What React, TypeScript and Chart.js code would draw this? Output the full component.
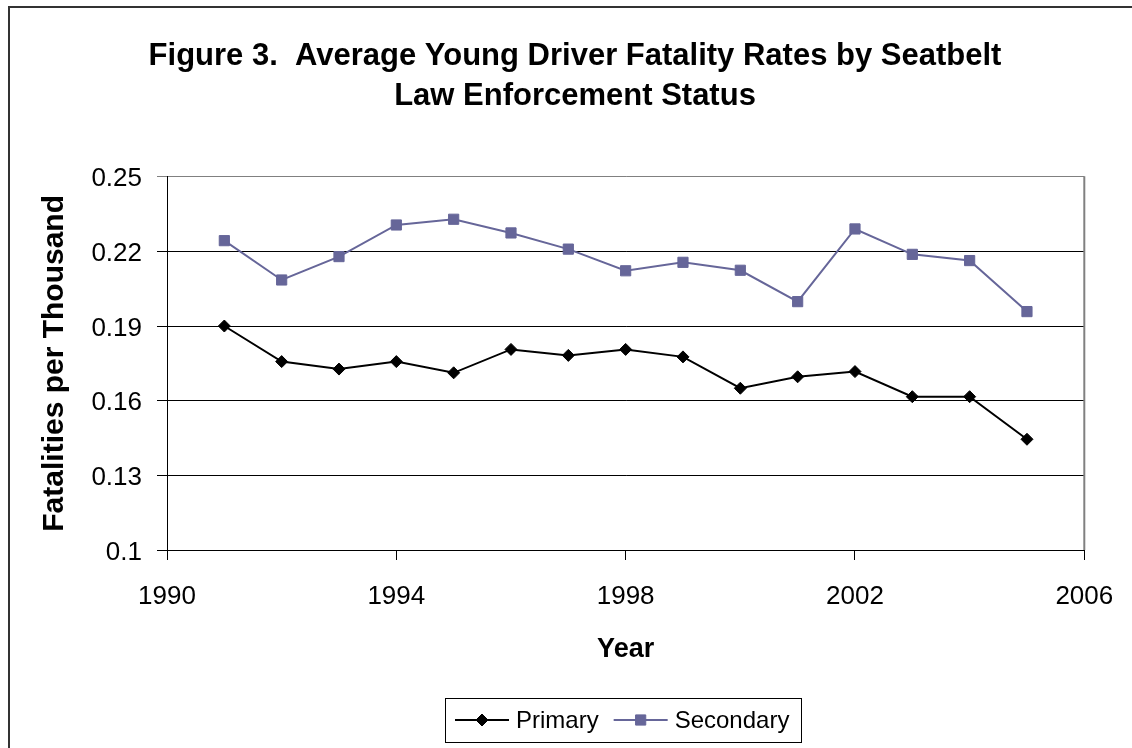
import React, { useEffect, useRef } from "react";
import { Chart, registerables } from "chart.js";

Chart.register(...registerables);

// ---- Data ----
const years = [1991, 1992, 1993, 1994, 1995, 1996, 1997, 1998, 1999, 2000, 2001, 2002, 2003, 2004, 2005];
const primaryRates = [0.19, 0.1757, 0.1727, 0.1757, 0.1712, 0.1806, 0.1782, 0.1806, 0.1776, 0.165, 0.1696, 0.1717, 0.1616, 0.1616, 0.1445];
const secondaryRates = [0.2243, 0.2085, 0.2179, 0.2306, 0.2329, 0.2274, 0.2209, 0.2122, 0.2156, 0.2124, 0.1998, 0.229, 0.2188, 0.2163, 0.1958];
const xTickValues = [1990, 1994, 1998, 2002, 2006];
const yTickValues = [0.1, 0.13, 0.16, 0.19, 0.22, 0.25];
const titleLines = ["Figure 3.  Average Young Driver Fatality Rates by Seatbelt", "Law Enforcement Status"];
const seriesLabels = ["Primary", "Secondary"];
const xTitle = "Year";
const yTitle = "Fatalities per Thousand";

const FONT = '"Liberation Sans", Arial, Helvetica, sans-serif';
const W = 1134;
const H = 752;

function drawMarker(ctx: CanvasRenderingContext2D, style: string, x: number, y: number, r: number) {
  ctx.beginPath();
  if (style === "rectRot") {
    ctx.moveTo(x - r, y);
    ctx.lineTo(x, y - r);
    ctx.lineTo(x + r, y);
    ctx.lineTo(x, y + r);
    ctx.closePath();
  } else {
    const s = Math.SQRT1_2 * r;
    ctx.rect(x - s, y - s, 2 * s, 2 * s);
  }
  ctx.fill();
  ctx.stroke();
}

const decorPlugin = {
  id: "decor",
  afterDraw(chart: any) {
    const ctx: CanvasRenderingContext2D = chart.ctx;
    const a = chart.chartArea;
    ctx.save();
    // plot area right border
    ctx.strokeStyle = "#808080";
    ctx.lineWidth = 2;
    ctx.beginPath();
    ctx.moveTo(a.right, a.top - 0.5);
    ctx.lineTo(a.right, a.bottom);
    ctx.stroke();

    // outer frame (left + top edges visible)
    ctx.strokeStyle = "#333";
    ctx.lineWidth = 2;
    ctx.beginPath();
    ctx.moveTo(1, chart.height);
    ctx.lineTo(1, 1);
    ctx.lineTo(chart.width, 1);
    ctx.stroke();

    // legend
    ctx.font = `24px ${FONT}`;
    const dsets = chart.data.datasets;
    const lineLen = 54, gapT = 7, gapItem = 15, padL = 10, padR = 12, boxH = 44;
    const widths = dsets.map((d: any) => ctx.measureText(d.label).width);
    let total = padL + padR + gapItem * (dsets.length - 1);
    widths.forEach((w: number) => (total += lineLen + gapT + w));
    const boxX = Math.round((a.left + a.right) / 2 - total / 2 - 2);
    const boxY = Math.round(a.bottom + 148);
    ctx.strokeStyle = "#000";
    ctx.lineWidth = 1;
    ctx.strokeRect(boxX + 0.5, boxY + 0.5, Math.round(total), boxH);
    const cy = boxY + boxH / 2;
    let x = boxX + padL;
    dsets.forEach((d: any, i: number) => {
      ctx.strokeStyle = d.borderColor;
      ctx.lineWidth = 2;
      ctx.beginPath();
      ctx.moveTo(x, cy);
      ctx.lineTo(x + lineLen, cy);
      ctx.stroke();
      ctx.fillStyle = d.pointBackgroundColor;
      ctx.strokeStyle = d.pointBorderColor;
      ctx.lineWidth = d.pointBorderWidth;
      drawMarker(ctx, d.pointStyle, x + lineLen / 2, cy, d.pointRadius);
      ctx.fillStyle = "#000";
      ctx.textBaseline = "middle";
      ctx.textAlign = "left";
      ctx.fillText(d.label, x + lineLen + gapT, cy + 1);
      x += lineLen + gapT + widths[i] + gapItem;
    });
    ctx.restore();
  },
};

export default function App() {
  const canvasRef = useRef<HTMLCanvasElement | null>(null);

  useEffect(() => {
    if (!canvasRef.current) return;
    const chart = new Chart(canvasRef.current, {
      type: "line",
      data: {
        datasets: [
          {
            label: seriesLabels[0],
            data: years.map((yr, i) => ({ x: yr, y: primaryRates[i] })),
            borderColor: "#000000",
            backgroundColor: "#000000",
            borderWidth: 2,
            tension: 0,
            pointStyle: "rectRot",
            pointRadius: 6,
            pointBackgroundColor: "#000000",
            pointBorderColor: "#000000",
            pointBorderWidth: 1,
          },
          {
            label: seriesLabels[1],
            data: years.map((yr, i) => ({ x: yr, y: secondaryRates[i] })),
            borderColor: "#666699",
            backgroundColor: "#666699",
            borderWidth: 2,
            tension: 0,
            pointStyle: "rect",
            pointRadius: 7.2,
            pointBackgroundColor: "#666699",
            pointBorderColor: "#666699",
            pointBorderWidth: 1,
          },
        ],
      },
      options: {
        responsive: false,
        animation: false,
        devicePixelRatio: 1,
        layout: { padding: { left: 0, right: 0, top: 0, bottom: 88 } },
        plugins: {
          legend: { display: false },
          tooltip: { enabled: false },
          title: {
            display: true,
            text: titleLines,
            color: "#000",
            font: { family: FONT, size: 31, weight: "bold", lineHeight: 40 / 31 },
            padding: { top: 30, bottom: 60.7 },
          },
        },
        scales: {
          x: {
            type: "linear",
            min: xTickValues[0],
            max: xTickValues[xTickValues.length - 1],
            afterBuildTicks: (s: any) => {
              s.ticks = xTickValues.map((v) => ({ value: v }));
            },
            afterFit: (s: any) => {
              s.height = 120;
              s.paddingRight = 57.7;
            },
            ticks: {
              color: "#000",
              font: { family: FONT, size: 26 },
              padding: 21,
              maxRotation: 0,
              autoSkip: false,
              callback: (v: any) => String(v),
            },
            grid: { drawOnChartArea: false, drawTicks: true, tickLength: 10, color: "#000", lineWidth: 1 },
            border: { display: true, color: "#000", width: 1 },
            title: {
              display: true,
              text: xTitle,
              color: "#000",
              font: { family: FONT, size: 27, weight: "bold" },
              padding: { top: 0, bottom: 4 },
            },
          },
          y: {
            type: "linear",
            min: yTickValues[0],
            max: yTickValues[yTickValues.length - 1],
            afterBuildTicks: (s: any) => {
              s.ticks = yTickValues.map((v) => ({ value: v }));
            },
            afterFit: (s: any) => {
              s.width = 159;
            },
            ticks: {
              color: "#000",
              font: { family: FONT, size: 26 },
              padding: 15,
              labelOffset: 2.5,
              autoSkip: false,
              callback: (v: any) => String(Number(Number(v).toFixed(2))),
            },
            grid: {
              color: (c: any) =>
                c.tick && Math.abs(c.tick.value - yTickValues[yTickValues.length - 1]) < 1e-9 ? "#808080" : "#000",
              lineWidth: 1,
              tickLength: 10,
              drawTicks: true,
            },
            border: { display: true, color: "#000", width: 1 },
            title: {
              display: true,
              text: yTitle,
              color: "#000",
              font: { family: FONT, size: 30, weight: "bold" },
              padding: { top: 29, bottom: 0 },
            },
          },
        },
      },
      plugins: [decorPlugin],
    } as any);
    return () => chart.destroy();
  }, []);

  return (
    <div style={{ position: "absolute", left: 8, top: 6, width: 1124, height: 742, overflow: "hidden", background: "#fff" }}>
      <canvas ref={canvasRef} width={W} height={H} style={{ display: "block", width: W, height: H }} />
    </div>
  );
}
